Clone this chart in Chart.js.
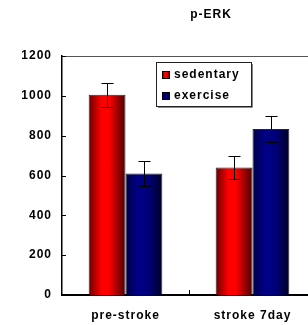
<!DOCTYPE html>
<html>
<head>
<meta charset="utf-8">
<script src="https://cdn.jsdelivr.net/npm/chart.js@4.4.1/dist/chart.umd.min.js"></script>
<style>
  html, body { margin: 0; padding: 0; background: #fff; overflow: hidden; }
  #wrap { width: 316px; height: 325px; }
</style>
</head>
<body>
<div id="wrap"><canvas id="chart"></canvas></div>
<script>
const title = "p-ERK";
const categories = ["pre-stroke", "stroke 7day"];
const seriesNames = ["sedentary", "exercise"];
const sedentary = [1005, 640];
const exercise = [610, 833];
const sedentaryErr = [60, 60];
const exerciseErr = [63, 67];
const yTicks = [0, 200, 400, 600, 800, 1000, 1200];

const FONT = "bold 12px 'Liberation Sans', Arial, sans-serif";

// horizontal shading like the old excel bars
function barGradient(ctx, x0, x1, dark) {
    const g = ctx.createLinearGradient(x0, 0, x1, 0);
    if (dark) {
        g.addColorStop(0, "#000048");
        g.addColorStop(0.35, "#000088");
        g.addColorStop(0.6, "#00007c");
        g.addColorStop(1, "#000028");
    } else {
        g.addColorStop(0, "#6a0000");
        g.addColorStop(0.35, "#ff0000");
        g.addColorStop(0.55, "#ff0000");
        g.addColorStop(1, "#4a0000");
    }
    return g;
}

const shading = {
    id: "shading",
    beforeDraw(chart) {
        chart.ctx.letterSpacing = "1px";
    },
    beforeDatasetsDraw(chart) {
        chart.data.datasets.forEach((ds, di) => {
            chart.getDatasetMeta(di).data.forEach((bar) => {
                const half = bar.width / 2;
                bar.options = Object.assign({}, bar.options, {
                    backgroundColor: barGradient(chart.ctx, bar.x - half, bar.x + half, di === 1),
                });
            });
        });
    },
};

const extras = {
    id: "extras",
    afterDatasetsDraw(chart) {
        const ctx = chart.ctx;
        const y = chart.scales.y;
        const x = chart.scales.x;
        const area = chart.chartArea;
        ctx.save();
        ctx.letterSpacing = "1px";

        // error bars
        ctx.strokeStyle = "#000";
        ctx.lineWidth = 1;
        const errs = [sedentaryErr, exerciseErr];
        chart.data.datasets.forEach((ds, di) => {
            chart.getDatasetMeta(di).data.forEach((bar, i) => {
                const v = ds.data[i];
                const top = Math.round(y.getPixelForValue(v + errs[di][i])) + 0.5;
                const bot = Math.round(y.getPixelForValue(v - errs[di][i])) + 0.5;
                const cx = Math.round(bar.x) + 0.5;
                ctx.beginPath();
                ctx.moveTo(cx, top); ctx.lineTo(cx, bot);
                ctx.moveTo(cx - 6, top); ctx.lineTo(cx + 6, top);
                ctx.moveTo(cx - 6, bot); ctx.lineTo(cx + 6, bot);
                ctx.stroke();
            });
        });

        // top frame line
        ctx.strokeStyle = "#555";
        ctx.beginPath();
        ctx.moveTo(area.left, area.top + 0.5);
        ctx.lineTo(area.right, area.top + 0.5);
        ctx.stroke();

        // inward tick marks
        ctx.strokeStyle = "#000";
        ctx.beginPath();
        yTicks.forEach((t) => {
            const py = Math.round(y.getPixelForValue(t)) + 0.5;
            ctx.moveTo(area.left, py); ctx.lineTo(area.left + 4, py);
        });
        const step = (area.right - area.left) / categories.length;
        for (let i = 1; i < categories.length; i++) {
            const px = Math.round(x.getPixelForValue(i) - step / 2) + 0.5;
            ctx.moveTo(px, area.bottom); ctx.lineTo(px, area.bottom - 5);
        }
        ctx.stroke();

        // legend box
        const lx = 156, ly = 62, lw = 95, lh = 44;
        ctx.fillStyle = "#fff";
        ctx.fillRect(lx, ly, lw, lh);
        ctx.strokeStyle = "#888";
        ctx.beginPath();
        ctx.moveTo(lx + lw + 1.5, ly + 2); ctx.lineTo(lx + lw + 1.5, ly + lh + 1.5); ctx.lineTo(lx + 2, ly + lh + 1.5);
        ctx.stroke();
        ctx.strokeStyle = "#222";
        ctx.strokeRect(lx + 0.5, ly + 0.5, lw, lh);
        ctx.font = FONT;
        ctx.textBaseline = "middle";
        ctx.textAlign = "left";
        seriesNames.forEach((name, i) => {
            const ry = ly + 9 + i * 21;
            ctx.fillStyle = barGradient(ctx, lx + 6, lx + 14, i === 1);
            ctx.fillRect(lx + 6, ry, 8, 8);
            ctx.strokeStyle = "#000";
            ctx.strokeRect(lx + 6.5, ry + 0.5, 7, 7);
            ctx.fillStyle = "#000";
            ctx.fillText(name, lx + 18, ry + 4);
        });

        // title
        ctx.textAlign = "center";
        ctx.fillText(title, 211, 15);
        ctx.restore();
    },
};

new Chart(document.getElementById("chart"), {
    type: "bar",
    data: {
        labels: categories,
        datasets: [
            { label: seriesNames[0], data: sedentary, backgroundColor: "#f00", borderColor: "rgba(0,0,0,0.85)", borderWidth: 1 },
            { label: seriesNames[1], data: exercise, backgroundColor: "#000080", borderColor: "rgba(0,0,0,0.85)", borderWidth: 1 },
        ],
    },
    options: {
        responsive: true,
        maintainAspectRatio: false,
        animation: false,
        layout: { padding: { top: 56, left: 0, right: 0, bottom: 0 } },
        datasets: { bar: { categoryPercentage: 0.58, barPercentage: 1.0 } },
        scales: {
            x: {
                afterFit: (scale) => { scale.height = 30; },
                grid: { display: false, drawTicks: false },
                border: { display: true, color: "#000", width: 2 },
                ticks: { color: "#000", font: { family: "'Liberation Sans', Arial, sans-serif", size: 12, weight: "bold" }, padding: 13 },
            },
            y: {
                min: 0,
                max: 1200,
                afterFit: (scale) => { scale.width = 62; },
                afterBuildTicks: (scale) => { scale.ticks = yTicks.map((v) => ({ value: v })); },
                grid: { display: false, drawTicks: false },
                border: { display: true, color: "#000", width: 1.5 },
                ticks: {
                    color: "#000",
                    font: { family: "'Liberation Sans', Arial, sans-serif", size: 12, weight: "bold" },
                    padding: 10,
                    callback: (v) => String(v),
                },
            },
        },
        plugins: {
            legend: { display: false },
            tooltip: { enabled: false },
        },
    },
    plugins: [shading, extras],
});
</script>
</body>
</html>
